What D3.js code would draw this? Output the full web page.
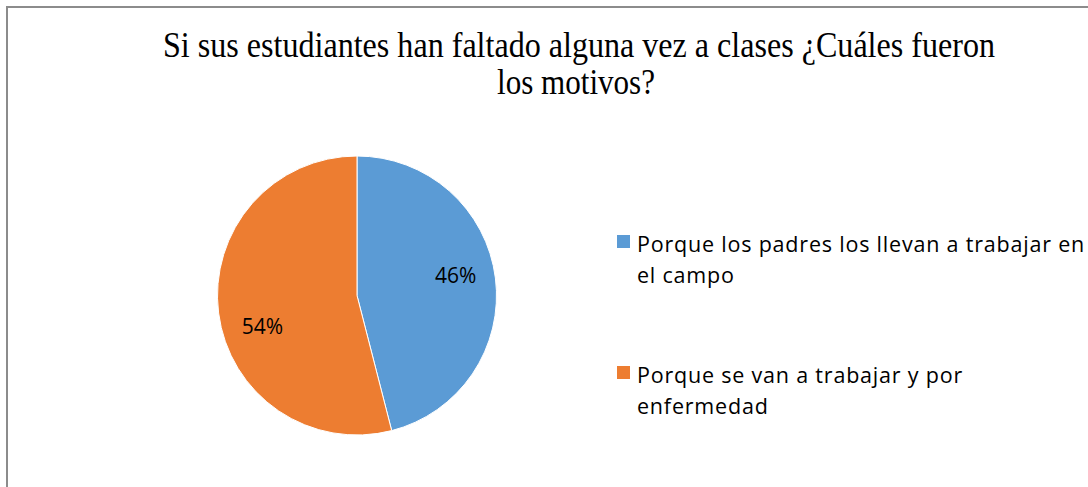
<!DOCTYPE html>
<html>
<head>
<meta charset="utf-8">
<script src="https://cdn.jsdelivr.net/npm/d3@7"></script>
<style>
  body { margin: 0; background: #fff; }
  svg { display: block; }
</style>
</head>
<body>
<div id="chart"></div>
<script>
// datos del gráfico
const categories = [
    ['Porque los padres los llevan a trabajar en', 'el campo'],
    ['Porque se van a trabajar y por', 'enfermedad']
];
const values = [46, 54];
const colors = ['#5B9BD5', '#ED7D31'];
const titleLines = ['Si sus estudiantes  han faltado alguna  vez a clases ¿Cuáles fueron', 'los motivos?'];

const W = 1088, H = 487;
const svg = d3.select('#chart').append('svg')
    .attr('width', W)
    .attr('height', H);

// marco
svg.append('path')
    .attr('d', `M7,${H} L7,7 L${W},7`)
    .attr('fill', 'none')
    .attr('stroke', '#8c8c8c')
    .attr('stroke-width', 2);

// titulo (Times comprimido)
const titleFont = 'Liberation Serif, Times New Roman, serif';
svg.append('text')
    .attr('x', 163).attr('y', 57)
    .attr('textLength', 832)
    .attr('lengthAdjust', 'spacingAndGlyphs')
    .style('font-family', titleFont)
    .style('font-size', '35px')
    .style('fill', '#000')
    .text(titleLines[0]);
svg.append('text')
    .attr('x', 497).attr('y', 94)
    .attr('textLength', 158)
    .attr('lengthAdjust', 'spacingAndGlyphs')
    .style('font-family', titleFont)
    .style('font-size', '35px')
    .style('fill', '#000')
    .text(titleLines[1]);

// pastel
const cx = 357, cy = 295.5, R = 139.5;
const pie = d3.pie().sort(null).value(d => d);
const arcs = pie(values);
const arc = d3.arc().innerRadius(0).outerRadius(R);
const labelArc = d3.arc().innerRadius(R * 0.72).outerRadius(R * 0.72);
const labelShift = [[-1, -7], [5, 19]]; // ajuste tipo "best fit"

const g = svg.append('g').attr('transform', `translate(${cx},${cy})`);
g.selectAll('path.slice')
    .data(arcs)
    .enter().append('path')
    .attr('class', 'slice')
    .attr('d', arc)
    .attr('fill', (d, i) => colors[i])
    .attr('stroke', '#fff')
    .attr('stroke-width', 1);

g.selectAll('text.lbl')
    .data(arcs)
    .enter().append('text')
    .attr('class', 'lbl')
    .attr('transform', d => {
        const c = labelArc.centroid(d);
        const s = labelShift[d.index];
        return `translate(${c[0] + s[0]},${c[1] + s[1]})`;
    })
    .attr('text-anchor', 'middle')
    .attr('dy', '0.35em')
    .style('font-family', 'Open Sans, Liberation Sans, sans-serif')
    .style('font-size', '21px')
    .style('fill', '#000')
    .text(d => d.data + '%');

// leyenda
const legendY = [235, 366];
const legend = svg.append('g');
categories.forEach((lines, i) => {
    legend.append('rect')
        .attr('x', 617).attr('y', legendY[i])
        .attr('width', 13).attr('height', 13)
        .attr('fill', colors[i]);
    lines.forEach((ln, j) => {
        legend.append('text')
            .attr('x', 637)
            .attr('y', legendY[i] + 17 + j * 31)
            .style('font-family', 'Open Sans, Liberation Sans, sans-serif')
            .style('font-size', '21.5px')
            .style('letter-spacing', '0.8px')
            .style('fill', '#000')
            .text(ln);
    });
});
</script>
</body>
</html>
